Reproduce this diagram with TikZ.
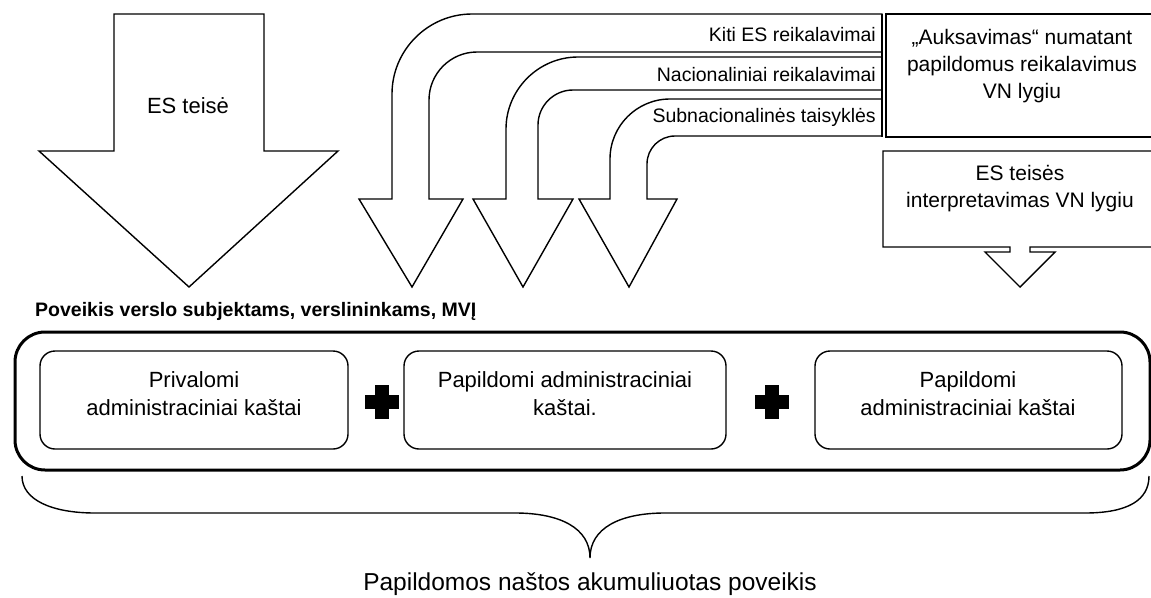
\documentclass[tikz,border=0pt]{standalone}
\usepackage{fontspec}
\setmainfont{Liberation Sans}
\begin{document}
\begin{tikzpicture}[x=1pt,y=-1pt,line join=miter,
  outl/.style={draw,line width=1.4pt,fill=white},
  band/.style={anchor=east,inner sep=0pt,font=\fontsize{19.5}{22}\selectfont},
  bigtxt/.style={align=center,inner sep=0pt,font=\fontsize{21}{27}\selectfont},
  boxtxt/.style={align=center,inner sep=0pt,font=\fontsize{22}{28}\selectfont},
  costbox/.style={draw,line width=1.4pt,rounded corners=15pt},
  plus/.style={fill=black,draw=none}]
\useasboundingbox (0,0) rectangle (1151,597);
\clip (0,0) rectangle (1151,597);

% big arrow
\draw[outl] (114,14) -- (264,14) -- (264,151) -- (338,151) -- (189,287) -- (39,151) -- (114,151) -- cycle;
\node[bigtxt,font=\fontsize{22}{27}\selectfont] (es) at (188,106) {ES teisė};

% curved arrows
\draw[outl] (882,14) -- (472,14) .. controls (428,14) and (392,50) .. (392,94)
  -- (392,199) -- (359,199) -- (412,287) -- (463,199) -- (429,199) -- (429,100)
  .. controls (429,73.5) and (450.5,52) .. (477,52) -- (882,52) -- cycle;
\draw[outl] (882,57) -- (578,57) .. controls (538.3,57) and (506,89.7) .. (506,129)
  -- (506,199) -- (473,199) -- (523,287) -- (573,199) -- (538,199) -- (538,125)
  .. controls (538,105.7) and (553.7,90) .. (573,90) -- (882,90) -- cycle;
\draw[outl] (882,99) -- (670,99) .. controls (636.9,99) and (610,125.9) .. (610,159)
  -- (610,199) -- (579,199) -- (629,287) -- (677,199) -- (647,199) -- (647,164)
  .. controls (647,148.5) and (659.5,136) .. (675,136) -- (882,136) -- cycle;
\coordinate (bt) at (882,14);
\coordinate (bb) at (882,137);
\draw[line width=1.4pt] (bt) -- (bb);
\node[band] (l1) at (876,35) {Kiti ES reikalavimai};
\node[band] (l2) at (876,75) {Nacionaliniai reikalavimai};
\node[band] (l3) at (876,117) {Subnacionalinės taisyklės};

% right boxes
\draw[outl] (886,14) rectangle (1160,137);
\node[bigtxt] (auks) at (1022,66) {„Auksavimas“ numatant\\papildomus reikalavimus\\VN lygiu};
\draw[outl] (1160,151) -- (883,151) -- (883,247) -- (1010,247) -- (1010,252) -- (985,252)
  -- (1020,287) -- (1055,252) -- (1030,252) -- (1030,247) -- (1160,247);
\node[bigtxt] (interp) at (1020,189) {ES teisės\\interpretavimas VN lygiu};

% label
\node[anchor=west,inner sep=0pt,font=\fontsize{19.5}{22}\selectfont\bfseries] (pov) at (35,311)
  {Poveikis verslo subjektams, verslininkams, MVĮ};

% main box
\draw[line width=3pt,rounded corners=30pt] (15,332) rectangle (1150,470);
\draw[costbox] (40,351) rectangle (348,449);
\draw[costbox] (404,351) rectangle (726,449);
\draw[costbox] (815,351) rectangle (1122,449);
\node[boxtxt] (c1) at (194,394) {Privalomi\\administraciniai kaštai};
\node[boxtxt] (c2) at (565,394) {Papildomi administraciniai\\kaštai.};
\node[boxtxt] (c3) at (968,394) {Papildomi\\administraciniai kaštai};
\foreach \cx in {382,772}{
  \fill[plus] (\cx-7,385) rectangle (\cx+7,419);
  \fill[plus] (\cx-17,395) rectangle (\cx+17,409);
}

% brace
\draw[line width=1.4pt] (22,476) .. controls (22,500) and (52,513) .. (95,513) -- (515,513)
  .. controls (560,513) and (590,528) .. (590,558)
  .. controls (590,528) and (620,513) .. (665,513) -- (1085,513)
  .. controls (1128,513) and (1149,500) .. (1149,476);
\node[inner sep=0pt,font=\fontsize{24.5}{28}\selectfont] (total) at (590,584) {Papildomos naštos akumuliuotas poveikis};
\end{tikzpicture}
\end{document}
